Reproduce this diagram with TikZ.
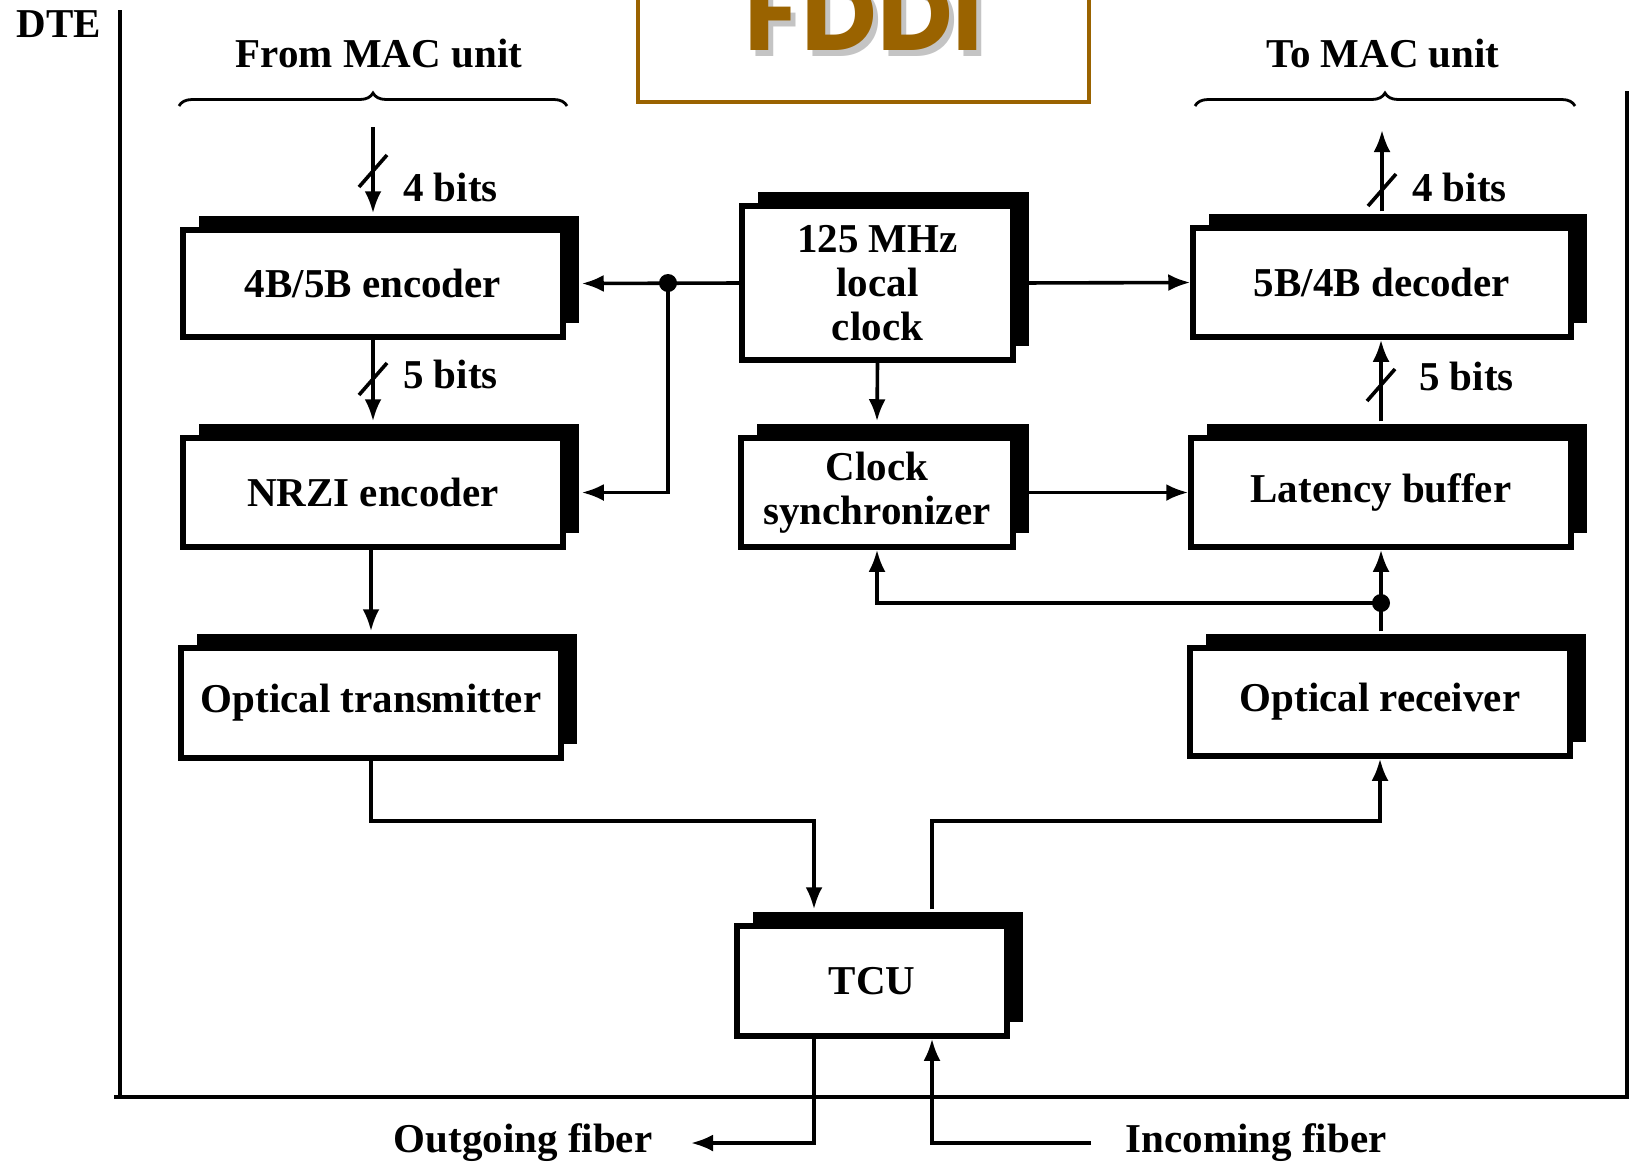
\documentclass[tikz,border=0pt]{standalone}
\usepackage{fontspec}
\setmainfont{Liberation Serif}
\newfontfamily\titlefont{Poppins}
\usetikzlibrary{arrows.meta,shadows,decorations.pathreplacing,calc}
\definecolor{fddibrown}{HTML}{9A6300}
\definecolor{fddishadow}{HTML}{C4C4C4}
\begin{document}
\begin{tikzpicture}[x=1pt,y=-1pt,
  txt/.style={font=\fontsize{41}{44}\selectfont\bfseries, inner sep=0pt},
  box/.style={txt, draw=black, line width=5.5pt, fill=white, align=center,
    general shadow={fill=black, shadow xshift=16pt, shadow yshift=14pt}},
  conn/.style={line width=3.6pt},
  arr/.style={conn, -{Latex[length=22pt,width=17pt]}},
  dot/.style={circle, fill=black, inner sep=0pt, minimum size=18pt},
  brc/.style={decorate, decoration={brace, amplitude=13pt}, line width=2.8pt},
  frame/.style={line width=4pt},
]
\clip (0,0) rectangle (1630,1171);
\fill[white] (0,0) rectangle (1630,1171);

% title
\node[draw=fddibrown, line width=4.5pt, minimum width=451pt, minimum height=140pt, inner sep=0pt] (titlebox) at (863.5,32) {};
\node[text=fddishadow, font=\titlefont\bfseries\fontsize{104}{110}\selectfont, anchor=base, inner sep=0pt] (titleshadow) at (869,56) {FDDI};
\node[text=fddibrown, font=\titlefont\bfseries\fontsize{104}{110}\selectfont, anchor=base, inner sep=0pt] (title) at (864,50) {FDDI};

% DTE frame
\node[txt, anchor=center] (dte) at (59,24) {DTE};
\coordinate (ftl) at (120,10);
\coordinate (fbl) at (114,1097);
\coordinate (fbr) at (1627,1097);
\coordinate (ftr) at (1627,91);
\draw[frame] (ftl) -- (ftl |- fbl);
\draw[frame] (fbl) -- (fbr) -- (ftr);

% braces and labels
\node[txt] (frommac) at (379,54) {From MAC unit};
\node[txt] (tomac) at (1383,54) {To MAC unit};
\coordinate (b1l) at (179,106);
\coordinate (b1r) at (567,106);
\coordinate (b2l) at (1195,106);
\coordinate (b2r) at (1575,106);
\draw[brc] (b1l) -- (b1r);
\draw[brc] (b2l) -- (b2r);

% boxes
\node[box, minimum width=380pt, minimum height=107pt] (enc) at (373,283.5) {4B/5B encoder};
\node[box, minimum width=380pt, minimum height=109pt] (nrzi) at (373,492.5) {NRZI encoder};
\node[box, minimum width=380pt, minimum height=110pt] (otx) at (371,703) {Optical transmitter};
\node[box, minimum width=271pt, minimum height=154pt] (clk) at (877.5,283) {125 MHz\\local\\clock};
\node[box, minimum width=272pt, minimum height=109pt] (sync) at (877,492.5) {Clock\\synchronizer};
\node[box, minimum width=378pt, minimum height=109pt] (dec) at (1382,282.5) {5B/4B decoder};
\node[box, minimum width=380pt, minimum height=109pt] (lat) at (1381,492.5) {Latency buffer};
\node[box, minimum width=380pt, minimum height=108pt] (orx) at (1380,702) {Optical receiver};
\node[box, minimum width=270pt, minimum height=110pt] (tcu) at (872,981) {TCU};

% left column
\coordinate (macin) at (373,127);
\draw[arr] (macin) -- ([yshift=14pt]enc.north);
\draw[conn] (373,171) +(-14,16) -- +(14,-16);
\node[txt, anchor=west] (l4a) at (403,187) {4 bits};

\draw[arr] (enc.south) -- ([yshift=14pt]nrzi.north);
\draw[conn] (373,379) +(-14,16) -- +(14,-16);
\node[txt, anchor=west] (l5a) at (403,374) {5 bits};

\draw[arr] (nrzi.south -| otx.north) -- ([yshift=14pt]otx.north);

% clock distribution
\node[dot] (j1) at (668,283) {};
\draw[arr] (clk.west) -- ([xshift=16pt]enc.east);
\draw[arr] (j1.center) |- ([xshift=16pt]nrzi.east);
\draw[arr] (clk.east) -- (dec.west);
\draw[arr] (clk.south) -- ([yshift=14pt]sync.north);
\draw[arr] (sync.east) -- (lat.west);

% right column
\draw[arr] ([yshift=14pt]lat.north) -- (lat.north |- dec.south);
\draw[conn] (1381,385) +(-14,16) -- +(14,-16);
\node[txt, anchor=west] (l5b) at (1419,376) {5 bits};

\coordinate (macout) at (1382,130);
\draw[arr] ([yshift=14pt]dec.north) -- (macout);
\draw[conn] (1382,190) +(-14,16) -- +(14,-16);
\node[txt, anchor=west] (l4b) at (1412,187) {4 bits};

\node[dot] (j2) at (1381,603) {};
\draw[arr] ([yshift=14pt]orx.north -| lat.south) -- (lat.south);
\draw[arr] (j2.center) -| (sync.south);

% TCU connections
\coordinate (c1) at (814,821);
\coordinate (c2) at (932,821);
\draw[arr] (otx.south) |- (c1) -- ([yshift=14pt]tcu.north -| c1);
\draw[arr] ([yshift=14pt]tcu.north -| c2) -- (c2) -| (orx.south);

\coordinate (outend) at (691,1143);
\coordinate (instart) at (1091,1143);
\draw[arr] (tcu.south -| c1) |- (outend);
\draw[arr] (instart) -| (tcu.south -| c2);
\node[txt] (outf) at (523,1143) {Outgoing fiber};
\node[txt] (inf) at (1256,1143) {Incoming fiber};
\end{tikzpicture}
\end{document}
